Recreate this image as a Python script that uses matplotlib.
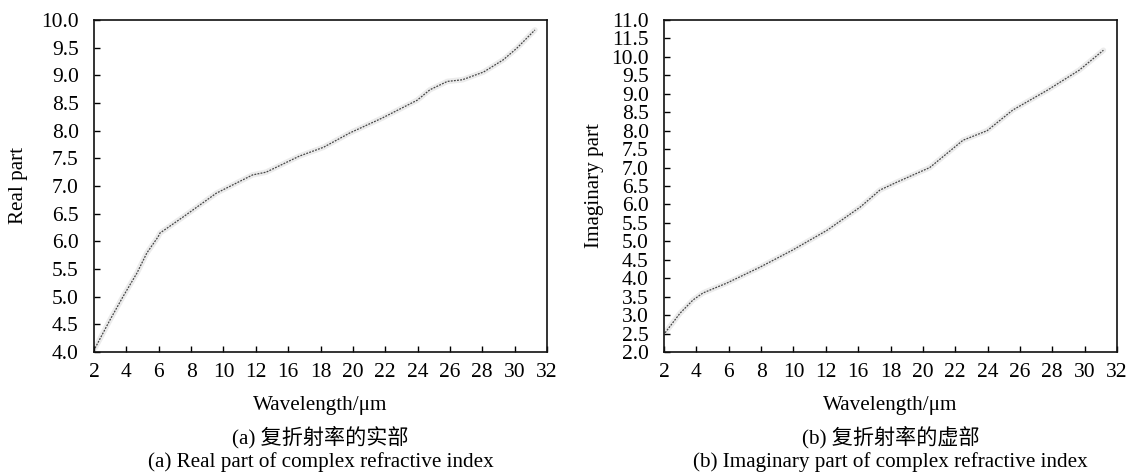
import matplotlib
matplotlib.use("Agg")
import matplotlib.pyplot as plt
import numpy as np

# values
real_wl = [2.07, 3.06, 3.92, 4.85, 5.5, 6.24, 6.37, 7.9, 10.1, 12.5, 13.4, 15.6,
           17.2, 18.95, 21.1, 23.4, 24.25, 25.4, 26.4, 27.8, 29.1, 30.0, 31.2]
real_n = [4.07, 4.58, 5.0, 5.43, 5.79, 6.08, 6.15, 6.44, 6.87, 7.2, 7.25, 7.54,
          7.7, 7.96, 8.23, 8.55, 8.74, 8.89, 8.92, 9.06, 9.28, 9.49, 9.82]

imag_wl = [2.07, 3.06, 3.92, 4.58, 6.17, 8.36, 10.5, 12.8, 15.0, 16.3, 17.4,
           19.6, 21.8, 23.4, 25.1, 27.4, 29.5, 31.1]
imag_k = [2.52, 3.05, 3.41, 3.6, 3.87, 4.3, 4.76, 5.3, 5.93, 6.39, 6.6,
          7.0, 7.74, 8.0, 8.56, 9.1, 9.64, 10.18]

x_ticklabels = ["2", "4", "6", "8", "10", "12", "16", "18", "20", "22", "24",
                "26", "28", "30", "32"]
real_ticklabels = ["4.0", "4.5", "5.0", "5.5", "6.0", "6.5", "7.0", "7.5",
                   "8.0", "8.5", "9.0", "9.5", "10.0"]
imag_ticklabels = ["2.0", "2.5", "3.0", "3.5", "4.0", "4.5", "5.0", "5.5", "6.0",
                   "6.5", "7.0", "7.5", "8.0", "8.5", "9.0", "9.5", "10.0",
                   "11.5", "11.0"]

FONT = ["Liberation Serif", "Noto Sans CJK SC"]
plt.rcParams["font.family"] = FONT

W, H = 1129, 473
fig = plt.figure(figsize=(W / 100, H / 100), dpi=100)


def make_panel(left_px, wl, vals, ylim, yticklabels, ylabel, ylabel_px, cap_cn, cap_en):
    ax = fig.add_axes([left_px / W, (H - 352) / H, 453 / W, 332 / H])
    ax.plot(wl, vals, color="#ececec", lw=4, solid_capstyle="round", zorder=1)
    ax.plot(wl, vals, color="#444444", lw=0.9, ls=(0, (1.5, 1)), zorder=2)
    ax.set_xlim(2, 32)
    ax.set_ylim(*ylim)
    ax.set_xticks(np.linspace(2, 32, len(x_ticklabels)))
    ax.set_xticklabels(x_ticklabels)
    ax.set_yticks(np.linspace(ylim[0], ylim[1], len(yticklabels)))
    ax.set_yticklabels(yticklabels)
    ax.tick_params(direction="in", length=4, width=1.0, labelsize=15.5, colors="black")
    ax.tick_params(axis="x", pad=8)
    ax.tick_params(axis="y", pad=11)
    for s in ax.spines.values():
        s.set_linewidth(1.2)
        s.set_color("#111111")

    fig.text(ylabel_px / W, 1 - 186 / H, ylabel, rotation=90, ha="center",
             va="center", fontsize=15.2)
    cx = (left_px + 226.5) / W
    fig.text(cx, 1 - 405 / H, "Wavelength/μm", ha="center", va="center", fontsize=15.2)
    fig.text(cx, 1 - 437 / H, cap_cn, ha="center", va="center", fontsize=15.2)
    fig.text(cx, 1 - 462 / H, cap_en, ha="center", va="center", fontsize=15.2)
    return ax


make_panel(94, real_wl, real_n, (4.0, 10.0), real_ticklabels, "Real part", 18,
           "(a) 复折射率的实部", "(a) Real part of complex refractive index")
make_panel(664, imag_wl, imag_k, (2.0, 11.0), imag_ticklabels, "Imaginary part", 595,
           "(b) 复折射率的虚部", "(b) Imaginary part of complex refractive index")

fig.savefig("out.png", dpi=100, facecolor="white")
